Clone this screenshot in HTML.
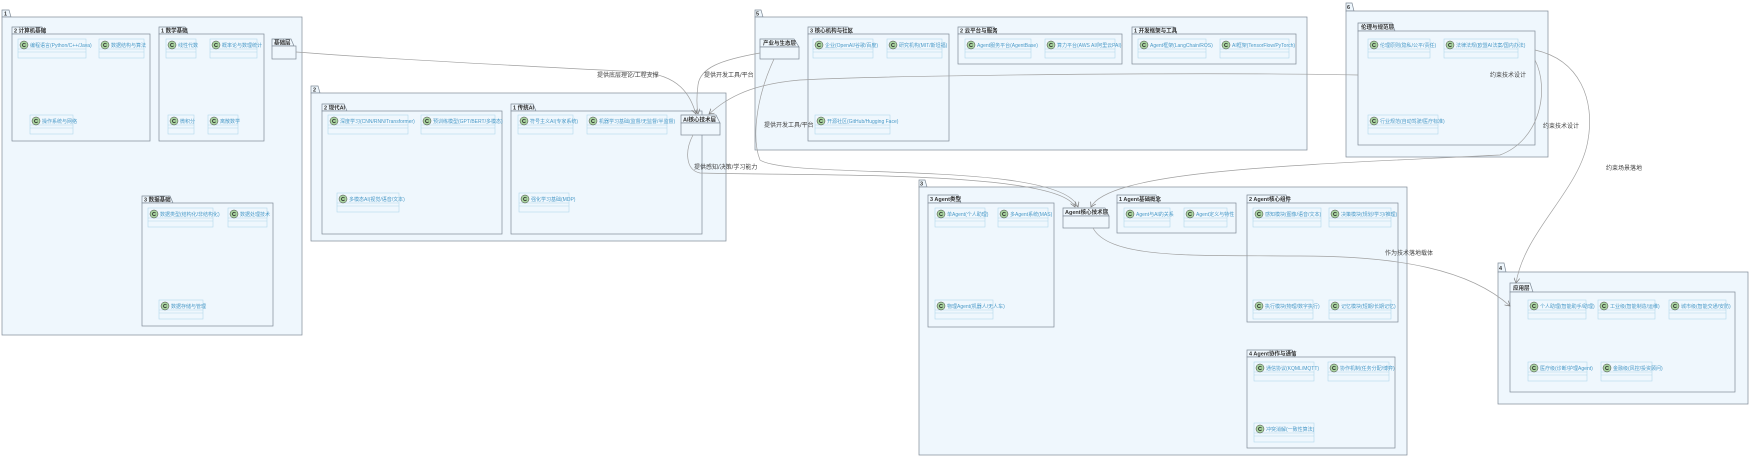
<!DOCTYPE html>
<html><head><meta charset="utf-8"><style>
html,body{margin:0;padding:0;background:#fff;width:1750px;height:460px;overflow:hidden}
svg text{font-family:"Liberation Sans","Noto Sans CJK SC",sans-serif}
.pk{fill:#eff7fd;stroke:#7f8a96;stroke-width:0.7}
.pt{font-size:5.5px;font-weight:600;fill:#333}
.cb{fill:#eff7fd;stroke:#b3d8ec;stroke-width:0.6}
.ct{font-size:5px;fill:#4a9ac8}
.ci{fill:#a9d3a0;stroke:#444;stroke-width:0.5}
.cc{font-size:5.5px;font-weight:bold;fill:#222}
.ln{fill:none;stroke:#a0a0a0;stroke-width:0.7}
.lb{font-size:6px;fill:#444}
</style></head><body>
<svg width="1750" height="460" viewBox="0 0 1750 460" xmlns="http://www.w3.org/2000/svg">
<defs>
<marker id="a" markerWidth="6" markerHeight="6" refX="5" refY="3" orient="auto" markerUnits="userSpaceOnUse"><path d="M0,0 L5,3 L0,6" fill="none" stroke="#777" stroke-width="0.7"/></marker>
<g id="ic"><circle class="ci" cx="0" cy="0" r="4"/><text class="cc" x="-2" y="2">C</text></g>
</defs>

<!-- Package 1 -->
<path class="pk" d="M2,17 L2,10 L9,10 L11,17 Z"/><rect class="pk" x="2" y="17" width="300" height="318"/>
<text class="pt" x="4" y="15.5">1</text>
<path class="pk" d="M12,34 L12,27 L42,27 L45,34 Z"/><rect class="pk" x="12" y="34" width="138" height="107"/>
<text class="pt" x="14" y="32.5">2 计算机基础</text>
<rect class="cb" x="18" y="39" width="68" height="19"/><line class="cb" x1="18" y1="49" x2="86" y2="49"/><line class="cb" x1="18" y1="52" x2="86" y2="52"/><use href="#ic" x="24" y="45"/><text class="ct" x="30" y="47">编程语言(Python/C++/Java)</text>
<rect class="cb" x="99" y="39" width="45" height="19"/><line class="cb" x1="99" y1="49" x2="144" y2="49"/><line class="cb" x1="99" y1="52" x2="144" y2="52"/><use href="#ic" x="105" y="45"/><text class="ct" x="111" y="47">数据结构与算法</text>
<rect class="cb" x="30" y="115" width="43" height="19"/><line class="cb" x1="30" y1="125" x2="73" y2="125"/><line class="cb" x1="30" y1="128" x2="73" y2="128"/><use href="#ic" x="36" y="121"/><text class="ct" x="42" y="123">操作系统与网络</text>
<path class="pk" d="M159,34 L159,27 L185,27 L188,34 Z"/><rect class="pk" x="159" y="34" width="105" height="107"/>
<text class="pt" x="161" y="32.5">1 数学基础</text>
<rect class="cb" x="166" y="39" width="30" height="19"/><line class="cb" x1="166" y1="49" x2="196" y2="49"/><line class="cb" x1="166" y1="52" x2="196" y2="52"/><use href="#ic" x="172" y="45"/><text class="ct" x="178" y="47">线性代数</text>
<rect class="cb" x="210" y="39" width="47" height="19"/><line class="cb" x1="210" y1="49" x2="257" y2="49"/><line class="cb" x1="210" y1="52" x2="257" y2="52"/><use href="#ic" x="216" y="45"/><text class="ct" x="222" y="47">概率论与数理统计</text>
<rect class="cb" x="168" y="115" width="26" height="19"/><line class="cb" x1="168" y1="125" x2="194" y2="125"/><line class="cb" x1="168" y1="128" x2="194" y2="128"/><use href="#ic" x="174" y="121"/><text class="ct" x="180" y="123">微积分</text>
<rect class="cb" x="208" y="115" width="30" height="19"/><line class="cb" x1="208" y1="125" x2="238" y2="125"/><line class="cb" x1="208" y1="128" x2="238" y2="128"/><use href="#ic" x="214" y="121"/><text class="ct" x="220" y="123">离散数学</text>
<path class="pk" d="M272,46 L272,39 L291,39 L294,46 Z"/><rect class="pk" x="272" y="46" width="24" height="13"/>
<text class="pt" x="274" y="44.5">基础层</text>
<path class="pk" d="M142,203 L142,196 L170,196 L173,203 Z"/><rect class="pk" x="142" y="203" width="131" height="123"/>
<text class="pt" x="144" y="201.5">3 数据基础</text>
<rect class="cb" x="148" y="208" width="65" height="19"/><line class="cb" x1="148" y1="218" x2="213" y2="218"/><line class="cb" x1="148" y1="221" x2="213" y2="221"/><use href="#ic" x="154" y="214"/><text class="ct" x="160" y="216">数据类型(结构化/非结构化)</text>
<rect class="cb" x="228" y="208" width="39" height="19"/><line class="cb" x1="228" y1="218" x2="267" y2="218"/><line class="cb" x1="228" y1="221" x2="267" y2="221"/><use href="#ic" x="234" y="214"/><text class="ct" x="240" y="216">数据处理技术</text>
<rect class="cb" x="159" y="300" width="44" height="19"/><line class="cb" x1="159" y1="310" x2="203" y2="310"/><line class="cb" x1="159" y1="313" x2="203" y2="313"/><use href="#ic" x="165" y="306"/><text class="ct" x="171" y="308">数据存储与管理</text>

<!-- Package 2 -->
<path class="pk" d="M311,93 L311,86 L318,86 L320,93 Z"/><rect class="pk" x="311" y="93" width="415" height="148"/>
<text class="pt" x="313" y="91.5">2</text>
<path class="pk" d="M322,111 L322,104 L344,104 L347,111 Z"/><rect class="pk" x="322" y="111" width="180" height="123"/>
<text class="pt" x="324" y="109.5">2 现代AI</text>
<rect class="cb" x="328" y="115" width="80" height="19"/><line class="cb" x1="328" y1="125" x2="408" y2="125"/><line class="cb" x1="328" y1="128" x2="408" y2="128"/><use href="#ic" x="334" y="121"/><text class="ct" x="340" y="123">深度学习(CNN/RNN/Transformer)</text>
<rect class="cb" x="421" y="115" width="74" height="19"/><line class="cb" x1="421" y1="125" x2="495" y2="125"/><line class="cb" x1="421" y1="128" x2="495" y2="128"/><use href="#ic" x="427" y="121"/><text class="ct" x="433" y="123">预训练模型(GPT/BERT/多模态)</text>
<rect class="cb" x="337" y="193" width="62" height="19"/><line class="cb" x1="337" y1="203" x2="399" y2="203"/><line class="cb" x1="337" y1="206" x2="399" y2="206"/><use href="#ic" x="343" y="199"/><text class="ct" x="349" y="201">多模态AI(视觉/语音/文本)</text>
<path class="pk" d="M511,111 L511,104 L533,104 L536,111 Z"/><rect class="pk" x="511" y="111" width="191" height="123"/>
<text class="pt" x="513" y="109.5">1 传统AI</text>
<rect class="cb" x="518" y="115" width="55" height="19"/><line class="cb" x1="518" y1="125" x2="573" y2="125"/><line class="cb" x1="518" y1="128" x2="573" y2="128"/><use href="#ic" x="524" y="121"/><text class="ct" x="530" y="123">符号主义AI(专家系统)</text>
<rect class="cb" x="587" y="115" width="80" height="19"/><line class="cb" x1="587" y1="125" x2="667" y2="125"/><line class="cb" x1="587" y1="128" x2="667" y2="128"/><use href="#ic" x="593" y="121"/><text class="ct" x="599" y="123">机器学习基础(监督/无监督/半监督)</text>
<rect class="cb" x="519" y="193" width="50" height="19"/><line class="cb" x1="519" y1="203" x2="569" y2="203"/><line class="cb" x1="519" y1="206" x2="569" y2="206"/><use href="#ic" x="525" y="199"/><text class="ct" x="531" y="201">强化学习基础(MDP)</text>
<path class="pk" d="M681,123 L681,115 L716,115 L720,123 Z"/><rect class="pk" x="681" y="123" width="39" height="12"/>
<text class="pt" x="683" y="121.5">AI核心技术层</text>

<!-- Package 5 -->
<path class="pk" d="M755,17 L755,10 L761,10 L763,17 Z"/><rect class="pk" x="755" y="17" width="552" height="133"/>
<text class="pt" x="756" y="15.5">5</text>
<path class="pk" d="M760,47 L760,39 L794,39 L799,47 Z"/><rect class="pk" x="760" y="47" width="39" height="12"/>
<text class="pt" x="763" y="45">产业与生态层</text>
<path class="pk" d="M808,34 L808,27 L848,27 L851,34 Z"/><rect class="pk" x="808" y="34" width="141" height="107"/>
<text class="pt" x="810" y="32.5">3 核心机构与社区</text>
<rect class="cb" x="813" y="39" width="60" height="19"/><line class="cb" x1="813" y1="49" x2="873" y2="49"/><line class="cb" x1="813" y1="52" x2="873" y2="52"/><use href="#ic" x="819" y="45"/><text class="ct" x="825" y="47">企业(OpenAI/谷歌/百度)</text>
<rect class="cb" x="887" y="39" width="55" height="19"/><line class="cb" x1="887" y1="49" x2="942" y2="49"/><line class="cb" x1="887" y1="52" x2="942" y2="52"/><use href="#ic" x="893" y="45"/><text class="ct" x="899" y="47">研究机构(MIT/斯坦福)</text>
<rect class="cb" x="815" y="115" width="75" height="19"/><line class="cb" x1="815" y1="125" x2="890" y2="125"/><line class="cb" x1="815" y1="128" x2="890" y2="128"/><use href="#ic" x="821" y="121"/><text class="ct" x="827" y="123">开源社区(GitHub/Hugging Face)</text>
<path class="pk" d="M958,34 L958,27 L994,27 L997,34 Z"/><rect class="pk" x="958" y="34" width="164" height="30"/>
<text class="pt" x="960" y="32.5">2 云平台与服务</text>
<rect class="cb" x="965" y="39" width="66" height="19"/><line class="cb" x1="965" y1="49" x2="1031" y2="49"/><line class="cb" x1="965" y1="52" x2="1031" y2="52"/><use href="#ic" x="971" y="45"/><text class="ct" x="977" y="47">Agent服务平台(AgentBase)</text>
<rect class="cb" x="1045" y="39" width="70" height="19"/><line class="cb" x1="1045" y1="49" x2="1115" y2="49"/><line class="cb" x1="1045" y1="52" x2="1115" y2="52"/><use href="#ic" x="1051" y="45"/><text class="ct" x="1057" y="47">算力平台(AWS AI/阿里云PAI)</text>
<path class="pk" d="M1132,34 L1132,27 L1174,27 L1177,34 Z"/><rect class="pk" x="1132" y="34" width="164" height="30"/>
<text class="pt" x="1134" y="32.5">1 开发框架与工具</text>
<rect class="cb" x="1138" y="39" width="68" height="19"/><line class="cb" x1="1138" y1="49" x2="1206" y2="49"/><line class="cb" x1="1138" y1="52" x2="1206" y2="52"/><use href="#ic" x="1144" y="45"/><text class="ct" x="1150" y="47">Agent框架(LangChain/ROS)</text>
<rect class="cb" x="1220" y="39" width="69" height="19"/><line class="cb" x1="1220" y1="49" x2="1289" y2="49"/><line class="cb" x1="1220" y1="52" x2="1289" y2="52"/><use href="#ic" x="1226" y="45"/><text class="ct" x="1232" y="47">AI框架(TensorFlow/PyTorch)</text>

<!-- Package 6 -->
<path class="pk" d="M1346,11 L1346,3 L1352,3 L1354,11 Z"/><rect class="pk" x="1346" y="11" width="202" height="146"/>
<text class="pt" x="1347" y="9">6</text>
<path class="pk" d="M1358,31 L1358,23 L1392,23 L1395,31 Z"/><rect class="pk" x="1358" y="31" width="177" height="114"/>
<text class="pt" x="1361" y="29">伦理与规范层</text>
<rect class="cb" x="1368" y="39" width="62" height="19"/><line class="cb" x1="1368" y1="49" x2="1430" y2="49"/><line class="cb" x1="1368" y1="52" x2="1430" y2="52"/><use href="#ic" x="1374" y="45"/><text class="ct" x="1380" y="47">伦理原则(隐私/公平/责任)</text>
<rect class="cb" x="1444" y="39" width="74" height="19"/><line class="cb" x1="1444" y1="49" x2="1518" y2="49"/><line class="cb" x1="1444" y1="52" x2="1518" y2="52"/><use href="#ic" x="1450" y="45"/><text class="ct" x="1456" y="47">法律法规(欧盟AI法案/国内办法)</text>
<rect class="cb" x="1368" y="115" width="70" height="19"/><line class="cb" x1="1368" y1="125" x2="1438" y2="125"/><line class="cb" x1="1368" y1="128" x2="1438" y2="128"/><use href="#ic" x="1374" y="121"/><text class="ct" x="1380" y="123">行业规范(自动驾驶/医疗标准)</text>

<!-- Package 3 -->
<path class="pk" d="M919,187 L919,180 L925,180 L927,187 Z"/><rect class="pk" x="919" y="187" width="488" height="268"/>
<text class="pt" x="920" y="185.5">3</text>
<path class="pk" d="M928,203 L928,195 L958,195 L961,203 Z"/><rect class="pk" x="928" y="203" width="126" height="124"/>
<text class="pt" x="930" y="201">3 Agent类型</text>
<rect class="cb" x="935" y="208" width="50" height="19"/><line class="cb" x1="935" y1="218" x2="985" y2="218"/><line class="cb" x1="935" y1="221" x2="985" y2="221"/><use href="#ic" x="941" y="214"/><text class="ct" x="947" y="216">单Agent(个人助理)</text>
<rect class="cb" x="998" y="208" width="50" height="19"/><line class="cb" x1="998" y1="218" x2="1048" y2="218"/><line class="cb" x1="998" y1="221" x2="1048" y2="221"/><use href="#ic" x="1004" y="214"/><text class="ct" x="1010" y="216">多Agent系统(MAS)</text>
<rect class="cb" x="935" y="300" width="58" height="19"/><line class="cb" x1="935" y1="310" x2="993" y2="310"/><line class="cb" x1="935" y1="313" x2="993" y2="313"/><use href="#ic" x="941" y="306"/><text class="ct" x="947" y="308">物理Agent(机器人/无人车)</text>
<path class="pk" d="M1063,216 L1063,208 L1105,208 L1109,216 Z"/><rect class="pk" x="1063" y="216" width="46" height="12"/>
<text class="pt" x="1065" y="214">Agent核心技术层</text>
<path class="pk" d="M1117,203 L1117,195 L1156,195 L1159,203 Z"/><rect class="pk" x="1117" y="203" width="119" height="30"/>
<text class="pt" x="1119" y="201">1 Agent基础概念</text>
<rect class="cb" x="1124" y="208" width="46" height="19"/><line class="cb" x1="1124" y1="218" x2="1170" y2="218"/><line class="cb" x1="1124" y1="221" x2="1170" y2="221"/><use href="#ic" x="1130" y="214"/><text class="ct" x="1136" y="216">Agent与AI的关系</text>
<rect class="cb" x="1184" y="208" width="43" height="19"/><line class="cb" x1="1184" y1="218" x2="1227" y2="218"/><line class="cb" x1="1184" y1="221" x2="1227" y2="221"/><use href="#ic" x="1190" y="214"/><text class="ct" x="1196" y="216">Agent定义与特性</text>
<path class="pk" d="M1247,203 L1247,195 L1286,195 L1289,203 Z"/><rect class="pk" x="1247" y="203" width="151" height="119"/>
<text class="pt" x="1249" y="201">2 Agent核心组件</text>
<rect class="cb" x="1253" y="208" width="68" height="19"/><line class="cb" x1="1253" y1="218" x2="1321" y2="218"/><line class="cb" x1="1253" y1="221" x2="1321" y2="221"/><use href="#ic" x="1259" y="214"/><text class="ct" x="1265" y="216">感知模块(图像/语音/文本)</text>
<rect class="cb" x="1329" y="208" width="62" height="19"/><line class="cb" x1="1329" y1="218" x2="1391" y2="218"/><line class="cb" x1="1329" y1="221" x2="1391" y2="221"/><use href="#ic" x="1335" y="214"/><text class="ct" x="1341" y="216">决策模块(规划/学习/推理)</text>
<rect class="cb" x="1253" y="300" width="60" height="19"/><line class="cb" x1="1253" y1="310" x2="1313" y2="310"/><line class="cb" x1="1253" y1="313" x2="1313" y2="313"/><use href="#ic" x="1259" y="306"/><text class="ct" x="1265" y="308">执行模块(物理/数字执行)</text>
<rect class="cb" x="1329" y="300" width="62" height="19"/><line class="cb" x1="1329" y1="310" x2="1391" y2="310"/><line class="cb" x1="1329" y1="313" x2="1391" y2="313"/><use href="#ic" x="1335" y="306"/><text class="ct" x="1341" y="308">记忆模块(短期/长期记忆)</text>
<path class="pk" d="M1247,357 L1247,350 L1292,350 L1295,357 Z"/><rect class="pk" x="1247" y="357" width="148" height="91"/>
<text class="pt" x="1249" y="355.5">4 Agent协作与通信</text>
<rect class="cb" x="1254" y="362" width="60" height="19"/><line class="cb" x1="1254" y1="372" x2="1314" y2="372"/><line class="cb" x1="1254" y1="375" x2="1314" y2="375"/><use href="#ic" x="1260" y="368"/><text class="ct" x="1266" y="370">通信协议(KQML/MQTT)</text>
<rect class="cb" x="1328" y="362" width="61" height="19"/><line class="cb" x1="1328" y1="372" x2="1389" y2="372"/><line class="cb" x1="1328" y1="375" x2="1389" y2="375"/><use href="#ic" x="1334" y="368"/><text class="ct" x="1340" y="370">协作机制(任务分配/博弈)</text>
<rect class="cb" x="1254" y="423" width="60" height="19"/><line class="cb" x1="1254" y1="433" x2="1314" y2="433"/><line class="cb" x1="1254" y1="436" x2="1314" y2="436"/><use href="#ic" x="1260" y="429"/><text class="ct" x="1266" y="431">冲突消解(一致性算法)</text>

<!-- Package 4 -->
<path class="pk" d="M1498,272 L1498,263 L1504,263 L1506,272 Z"/><rect class="pk" x="1498" y="272" width="250" height="132"/>
<text class="pt" x="1499" y="270">4</text>
<path class="pk" d="M1510,292 L1510,283 L1530,283 L1533,292 Z"/><rect class="pk" x="1510" y="292" width="225" height="100"/>
<text class="pt" x="1513" y="290">应用层</text>
<rect class="cb" x="1528" y="300" width="58" height="19"/><line class="cb" x1="1528" y1="310" x2="1586" y2="310"/><line class="cb" x1="1528" y1="313" x2="1586" y2="313"/><use href="#ic" x="1534" y="306"/><text class="ct" x="1540" y="308">个人助理(智能助手/助理)</text>
<rect class="cb" x="1598" y="300" width="57" height="19"/><line class="cb" x1="1598" y1="310" x2="1655" y2="310"/><line class="cb" x1="1598" y1="313" x2="1655" y2="313"/><use href="#ic" x="1604" y="306"/><text class="ct" x="1610" y="308">工业级(智能制造/运维)</text>
<rect class="cb" x="1669" y="300" width="57" height="19"/><line class="cb" x1="1669" y1="310" x2="1726" y2="310"/><line class="cb" x1="1669" y1="313" x2="1726" y2="313"/><use href="#ic" x="1675" y="306"/><text class="ct" x="1681" y="308">城市级(智能交通/安防)</text>
<rect class="cb" x="1528" y="362" width="59" height="19"/><line class="cb" x1="1528" y1="372" x2="1587" y2="372"/><line class="cb" x1="1528" y1="375" x2="1587" y2="375"/><use href="#ic" x="1534" y="368"/><text class="ct" x="1540" y="370">医疗级(诊断/护理Agent)</text>
<rect class="cb" x="1601" y="362" width="51" height="19"/><line class="cb" x1="1601" y1="372" x2="1652" y2="372"/><line class="cb" x1="1601" y1="375" x2="1652" y2="375"/><use href="#ic" x="1607" y="368"/><text class="ct" x="1613" y="370">金融级(风控/投资顾问)</text>

<!-- Connectors -->
<path class="ln" marker-end="url(#a)" d="M296,52 C400,60 560,68 640,72 C680,75 690,95 696,114"/>
<text class="lb" x="597" y="77">提供底层理论/工程支撑</text>
<path class="ln" marker-end="url(#a)" d="M760,53 C720,60 700,68 698,85 C696,100 697,108 698,114"/>
<text class="lb" x="704" y="77">提供开发工具/平台</text>
<path class="ln" marker-end="url(#a)" d="M1358,75 C1200,72 900,75 800,80 C740,85 720,105 709,114"/>
<text class="lb" x="1490" y="77">约束技术设计</text>
<path class="ln" marker-end="url(#a)" d="M774,59 C755,100 752,140 760,160 C790,180 1060,160 1078,207"/>
<text class="lb" x="764" y="127">提供开发工具/平台</text>
<path class="ln" marker-end="url(#a)" d="M693,135 C685,150 685,170 700,173 C800,176 1060,170 1075,207"/>
<text class="lb" x="694" y="169">提供感知/决策/学习能力</text>
<path class="ln" marker-end="url(#a)" d="M1535,60 C1550,90 1540,140 1500,155 C1300,165 1110,170 1091,207"/>
<text class="lb" x="1543" y="128">约束技术设计</text>
<path class="ln" marker-end="url(#a)" d="M1535,50 C1580,60 1595,100 1588,140 C1580,190 1525,230 1516,283"/>
<text class="lb" x="1606" y="170">约束场景落地</text>
<path class="ln" marker-end="url(#a)" d="M1093,228 C1110,260 1200,255 1300,256 C1400,256 1470,270 1510,306"/>
<text class="lb" x="1385" y="255">作为技术落地载体</text>
</svg>
</body></html>
